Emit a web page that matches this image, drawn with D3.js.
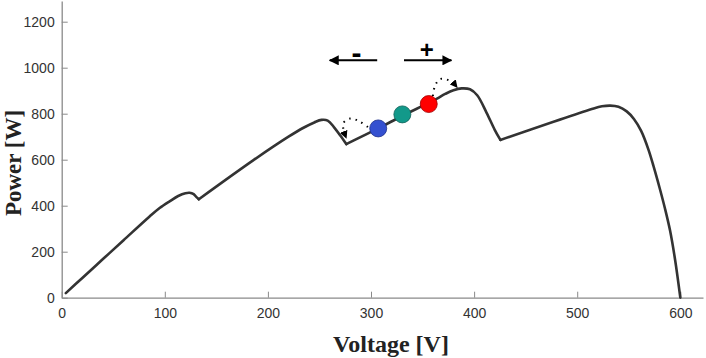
<!DOCTYPE html>
<html>
<head>
<meta charset="utf-8">
<script src="https://cdn.jsdelivr.net/npm/d3@7"></script>
<style>
  body { margin: 0; background: #fff; }
  svg { display: block; }
</style>
</head>
<body>
<div id="chart"></div>
<script>
// P-V curve (V, W)
const voltage = [4, 20, 40, 60, 85, 95, 105, 113, 120, 124, 128, 131, 133,
  186, 220, 235, 245, 252, 258, 264, 270, 276,
  307, 330, 355, 364, 372, 380, 388, 396, 403, 412, 420, 425.5,
  516, 524, 532, 540, 548, 555, 562, 569, 574, 580, 585, 590, 595, 600];
const power = [20, 86, 168, 250, 352, 390, 420, 442, 454, 456, 450, 436, 428,
  598, 700, 740, 762, 773, 770, 742, 706, 668,
  736, 790, 845, 866, 886, 902, 910, 906, 880, 805, 730, 686,
  823, 832, 835, 830, 810, 777, 725, 645, 572, 476, 390, 293, 163, 0];
// sharp corners of the curve (bypass-diode dips)
const cornerV = [133, 276, 425.5];

// operating points (blue, teal, red)
const pointV = [307, 330.4, 356];
const pointP = [736, 797, 842];
const pointColors = ['#3450d0', '#12998a', '#ff0000'];
const pointStroke = ['#1d2f8a', '#0b5f55', '#a00000'];

// perturbation arrows
const arrowFrom = [306, 332];
const arrowTo = [260, 378];
const arrowP = 1032;
const signText = ['-', '+'];
const signV = [286, 354];
const signP = [1064, 1078];

// dotted hop arrows
const hopLeft = [[297, 742], [289, 766], [280, 779], [273, 757], [276, 694]];
const hopRight = [[360, 877], [362, 920], [367, 951], [377, 942], [383.5, 914]];

const xTicks = [0, 100, 200, 300, 400, 500, 600];
const yTicks = [0, 200, 400, 600, 800, 1000, 1200];

const width = 706, height = 358;
const svg = d3.select('#chart').append('svg')
  .attr('width', width)
  .attr('height', height);

const x = d3.scaleLinear().domain([0, 622]).range([61.7, 703]);
const y = d3.scaleLinear().domain([0, 1290]).range([297.7, 1]);

const defs = svg.append('defs');
defs.append('marker')
  .attr('id', 'head')
  .attr('viewBox', '0 0 10 10')
  .attr('refX', 9).attr('refY', 5)
  .attr('markerWidth', 5).attr('markerHeight', 5)
  .attr('markerUnits', 'strokeWidth')
  .attr('orient', 'auto')
  .append('path')
  .attr('d', 'M0,0 L10,5 L0,10 z')
  .attr('fill', '#000');
defs.append('marker')
  .attr('id', 'headSmall')
  .attr('viewBox', '0 0 10 10')
  .attr('refX', 9).attr('refY', 5)
  .attr('markerWidth', 4).attr('markerHeight', 4)
  .attr('markerUnits', 'strokeWidth')
  .attr('orient', 'auto')
  .append('path')
  .attr('d', 'M0,0 L10,5 L0,10 z')
  .attr('fill', '#000');

// axes
const xAxis = d3.axisBottom(x).tickValues(xTicks).tickFormat(d3.format('d'))
  .tickSizeInner(-6).tickSizeOuter(0).tickPadding(10);
const yAxis = d3.axisLeft(y).tickValues(yTicks).tickFormat(d3.format('d'))
  .tickSizeInner(-6).tickSizeOuter(0).tickPadding(7);

const gx = svg.append('g').attr('transform', `translate(0,${y(0)})`).call(xAxis);
const gy = svg.append('g').attr('transform', `translate(${x(0)},0)`).call(yAxis);
[gx, gy].forEach(g => {
  g.select('.domain').attr('stroke', '#8a8a8a').attr('stroke-width', 1.3);
  g.selectAll('.tick line').attr('stroke', '#8a8a8a').attr('stroke-width', 1);
  g.selectAll('.tick text')
    .attr('fill', '#333')
    .style('font-family', '"Liberation Sans", Arial, sans-serif')
    .style('font-size', '14px');
});

// axis titles
svg.append('text')
  .attr('x', 391).attr('y', 352)
  .attr('text-anchor', 'middle')
  .style('font-family', '"Liberation Serif", "Times New Roman", serif')
  .style('font-weight', 'bold')
  .style('font-size', '24px')
  .attr('fill', '#222')
  .text('Voltage [V]');

svg.append('text')
  .attr('transform', 'translate(21,163) rotate(-90)')
  .attr('text-anchor', 'middle')
  .style('font-family', '"Liberation Serif", "Times New Roman", serif')
  .style('font-weight', 'bold')
  .style('font-size', '23px')
  .attr('fill', '#222')
  .text('Power [W]');

// P-V curve: smooth pieces joined at the sharp dips
const curve = voltage.map((v, i) => [v, power[i]]);
const pieces = [];
let start = 0;
cornerV.forEach(cv => {
  const end = voltage.indexOf(cv);
  pieces.push(curve.slice(start, end + 1));
  start = end;
});
pieces.push(curve.slice(start));

const line = d3.line().x(d => x(d[0])).y(d => y(d[1])).curve(d3.curveCatmullRom.alpha(0.5));
svg.append('g').selectAll('path')
  .data(pieces)
  .join('path')
  .attr('d', line)
  .attr('fill', 'none')
  .attr('stroke', '#333')
  .attr('stroke-width', 2.6)
  .attr('stroke-linejoin', 'round')
  .attr('stroke-linecap', 'round');

// dotted hops
const hopLine = d3.line().x(d => x(d[0])).y(d => y(d[1])).curve(d3.curveCatmullRom);
[hopLeft, hopRight].forEach(h => {
  svg.append('path')
    .datum(h)
    .attr('d', hopLine)
    .attr('fill', 'none')
    .attr('stroke', '#000')
    .attr('stroke-width', 2)
    .attr('stroke-dasharray', '1.5,5')
    .attr('marker-end', 'url(#headSmall)');
});

// operating points
svg.append('g').selectAll('circle')
  .data(pointV)
  .join('circle')
  .attr('cx', d => x(d))
  .attr('cy', (d, i) => y(pointP[i]))
  .attr('r', 8.5)
  .attr('fill', (d, i) => pointColors[i])
  .attr('stroke', (d, i) => pointStroke[i])
  .attr('stroke-width', 0.8);

// direction arrows
svg.append('g').selectAll('line')
  .data(arrowFrom)
  .join('line')
  .attr('x1', d => x(d))
  .attr('x2', (d, i) => x(arrowTo[i]))
  .attr('y1', y(arrowP))
  .attr('y2', y(arrowP))
  .attr('stroke', '#000')
  .attr('stroke-width', 2)
  .attr('marker-end', 'url(#head)');

svg.append('g').selectAll('text')
  .data(signText)
  .join('text')
  .attr('x', (d, i) => x(signV[i]))
  .attr('y', (d, i) => y(signP[i]))
  .attr('text-anchor', 'middle')
  .attr('dominant-baseline', 'central')
  .style('font-family', '"Liberation Sans", Arial, sans-serif')
  .style('font-weight', 'bold')
  .style('font-size', (d, i) => i === 0 ? '30px' : '24px')
  .attr('fill', '#000')
  .text(d => d);
</script>
</body>
</html>
